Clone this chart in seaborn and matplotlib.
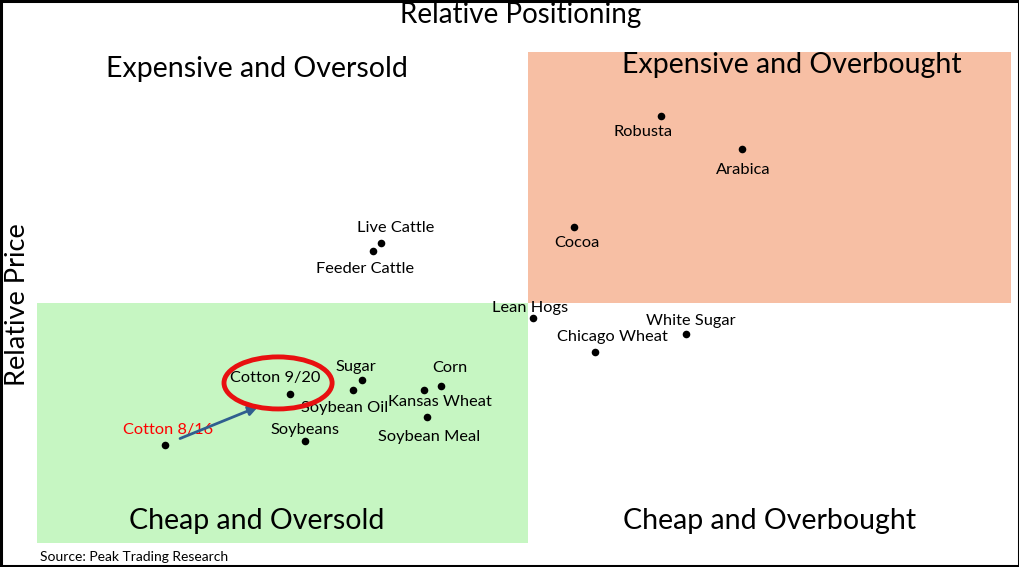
import matplotlib
matplotlib.use("Agg")
import matplotlib.pyplot as plt
import seaborn as sns
import pandas as pd
from matplotlib.patches import Ellipse, Rectangle

sns.set_theme(style="white")
plt.rcParams['font.family'] = ['Lato', 'DejaVu Sans']
plt.rcParams['text.color'] = 'black'

# ---- data ----
names = ["Robusta", "Arabica", "Cocoa", "Live Cattle", "Feeder Cattle", "Lean Hogs",
         "White Sugar", "Chicago Wheat", "Sugar", "Soybean Oil", "Cotton 9/20", "Corn",
         "Kansas Wheat", "Soybean Meal", "Soybeans", "Cotton 8/16"]
rel_positioning = [64.1, 72.4, 55.1, 35.3, 34.5, 50.9, 66.6, 57.3, 33.4, 32.4, 26.0, 41.5,
                   39.7, 40.0, 27.5, 13.1]
rel_price = [87.0, 80.2, 64.4, 61.1, 59.5, 45.8, 42.6, 38.9, 33.2, 31.2, 30.4, 32.0,
             31.2, 25.7, 20.8, 20.0]
# label offsets (pixels)
label_dx = [-18, 1, 3, 15, -8, -3, 5, 17, -6, -8, -15, 9, 16, 3, 0, 3]
label_dy = [-16, -21, -16, 15, -18, 10, 13, 15, 13, -18, 16, 18, -12, -20, 11, 15]
label_colors = ["black"] * 15 + ["red"]

split_x = 50.36
split_y = 48.98

df = pd.DataFrame({"name": names, "x": rel_positioning, "y": rel_price})

W, H = 1020, 567
fig = plt.figure(figsize=(W / 100, H / 100), dpi=100)
ax = fig.add_axes([37 / W, (H - 543) / H, (1011 - 37) / W, (543 - 52) / H])
ax.set_xlim(0, 100)
ax.set_ylim(0, 100)
ax.axis("off")

# quadrant shading
ax.add_patch(Rectangle((0, 0), split_x, split_y, facecolor="#C6F6C2", edgecolor="none", zorder=0))
ax.add_patch(Rectangle((split_x, split_y), 100 - split_x, 100 - split_y,
                       facecolor="#F7BFA4", edgecolor="none", zorder=0))

sns.scatterplot(data=df, x="x", y="y", ax=ax, color="black", s=30, edgecolor="black",
                linewidth=0, zorder=3, legend=False)

for n, x, y, dx, dy, c in zip(names, rel_positioning, rel_price, label_dx, label_dy, label_colors):
    ax.annotate(n, (x, y), xytext=(dx, dy), textcoords="offset pixels",
                ha="center", va="center", fontsize=11.8, color=c, zorder=4)

# arrow from Cotton 8/16 to Cotton 9/20
i_old = names.index("Cotton 8/16")
i_new = names.index("Cotton 9/20")
ax.annotate("", xy=(rel_positioning[i_new], rel_price[i_new]),
            xytext=(rel_positioning[i_old], rel_price[i_old]),
            arrowprops=dict(arrowstyle="-|>", color="#2F5F8F", lw=2,
                            shrinkA=12, shrinkB=25, mutation_scale=14), zorder=5)

# red ellipse around Cotton 9/20
ax.add_patch(Ellipse((rel_positioning[i_new] - 1.25, rel_price[i_new] + 2.2), 11.1, 10.6,
                     facecolor="none", edgecolor="#E81010", lw=3.5, zorder=5))

# quadrant titles
qs = 20.5
ax.text(22.6, 96.5, "Expensive and Oversold", ha="center", va="center", fontsize=qs)
ax.text(77.5, 97.3, "Expensive and Overbought", ha="center", va="center", fontsize=qs)
ax.text(22.6, 4.5, "Cheap and Oversold", ha="center", va="center", fontsize=qs)
ax.text(75.2, 4.5, "Cheap and Overbought", ha="center", va="center", fontsize=qs)

fig.text(521 / W, 1 - 15 / H, "Relative Positioning", ha="center", va="center", fontsize=20)
fig.text(18 / W, 1 - 305 / H, "Relative Price", ha="center", va="center", fontsize=19.5, rotation=90)
fig.text(40 / W, 1 - 557 / H, "Source: Peak Trading Research", ha="left", va="center", fontsize=10)

fig.add_artist(Rectangle((0.001, 0.002), 0.998, 0.996, transform=fig.transFigure,
                         facecolor="none", edgecolor="black", lw=2.2))

fig.savefig("out.png", dpi=100)
